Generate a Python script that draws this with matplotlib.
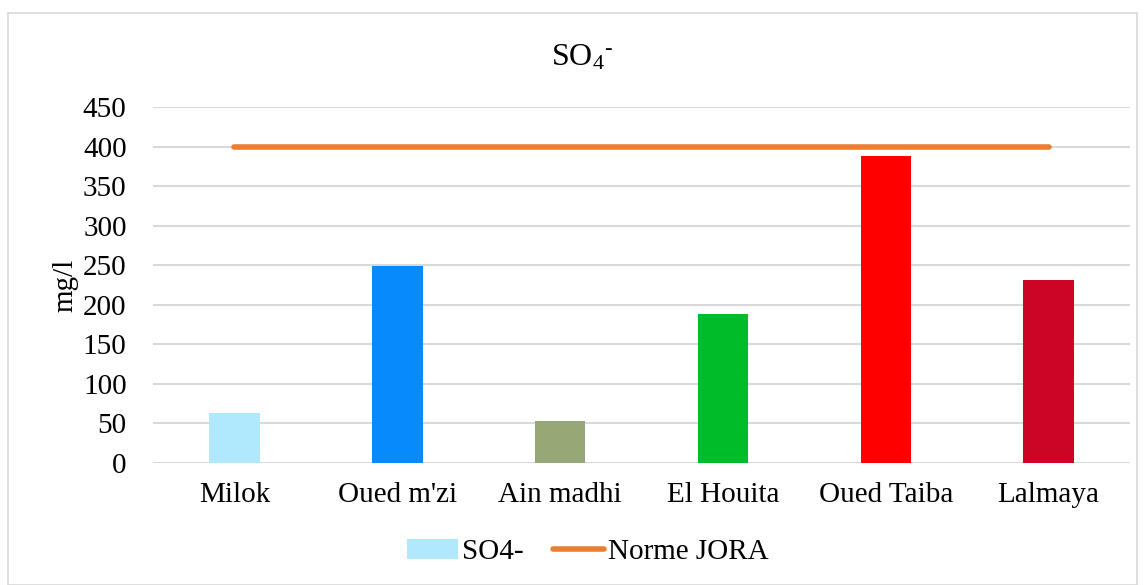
import matplotlib.pyplot as plt
from matplotlib.patches import Rectangle

plt.rcParams['font.family'] = ['Liberation Serif', 'DejaVu Serif']
plt.rcParams['mathtext.fontset'] = 'custom'
plt.rcParams['mathtext.rm'] = 'Liberation Serif'

# sulfate concentrations per site (mg/l)
sites = ["Milok", "Oued m'zi", "Ain madhi", "El Houita", "Oued Taiba", "Lalmaya"]
so4 = [63, 249, 53, 189, 388, 231]
norme = [400, 400, 400, 400, 400, 400]
colors = ['#B0E9FD', '#068AFC', '#95A876', '#00BC28', '#FE0000', '#CC0527']

fig = plt.figure(figsize=(11.45, 5.85), dpi=100)
ax = fig.add_axes([0.1336, 0.2085, 0.8534, 0.6085])

x = range(len(sites))
bars = ax.bar(x, so4, width=0.31, color=colors, label='SO4-', zorder=2)
line, = ax.plot(x, norme, color='#ED7D31', lw=4, solid_capstyle='round', label='Norme JORA', zorder=3)

ax.set_xlim(-0.5, len(sites) - 0.5)
ax.set_ylim(0, 450)
ax.set_yticks(range(0, 451, 50))
ax.set_xticks(list(x))
ax.set_xticklabels(sites)
ax.tick_params(axis='both', length=0, labelsize=21)
ax.tick_params(axis='x', pad=14)
ax.tick_params(axis='y', pad=19)
ax.grid(axis='y', color='#d9d9d9', lw=1.5, zorder=0)
ax.set_axisbelow(True)
for s in ax.spines.values():
    s.set_visible(False)

ax.set_ylabel('mg/l', fontsize=21, labelpad=3)

# title centred on the whole chart frame rather than the plot area
fig.text(582 / 1145, 1 - 58 / 585, 'SO$\\mathregular{_4}$$\\mathregular{^{\u2010}}$',
         fontsize=23, ha='center', va='center')

ax.legend([bars, line], ['SO4-', 'Norme JORA'], loc='center',
          bbox_to_anchor=(588 / 1145, 1 - 552 / 585), bbox_transform=fig.transFigure,
          ncol=2, frameon=False, fontsize=21, handlelength=1.75, handletextpad=0.15,
          columnspacing=1.0)

# light frame around the chart area
fig.patches.append(Rectangle((8 / 1145, 0), 1129 / 1145, 572 / 585, transform=fig.transFigure,
                             fill=False, edgecolor='#d9d9d9', lw=1.2))

fig.savefig('out.png', dpi=100)
